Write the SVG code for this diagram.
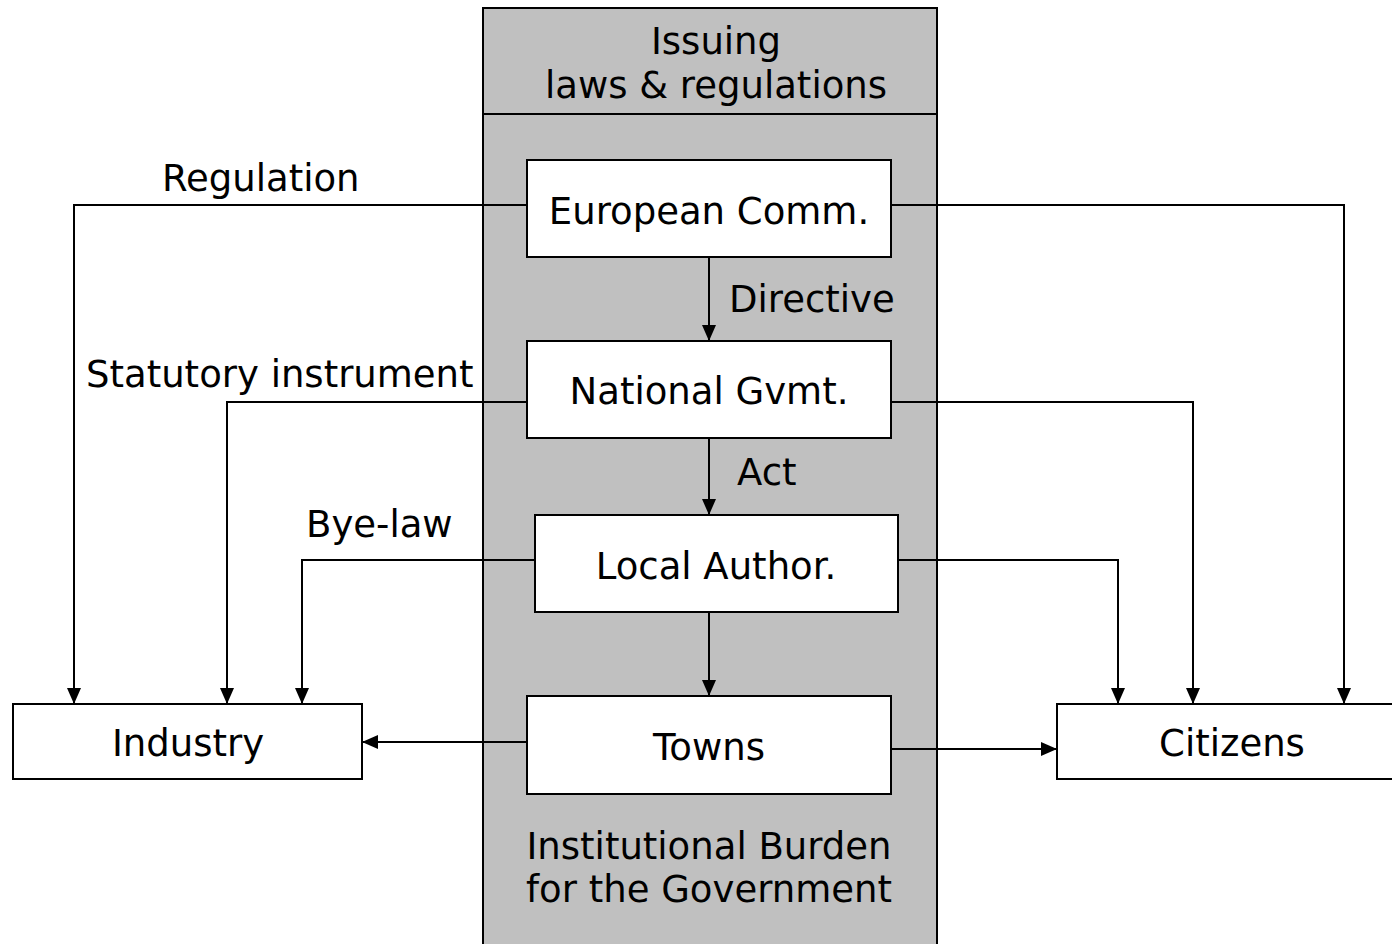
<svg xmlns="http://www.w3.org/2000/svg" width="1392" height="944" viewBox="0 0 1392 944">
<style>
.box{fill:#fff;stroke:#000;stroke-width:2}
.col{fill:#c0c0c0;stroke:#000;stroke-width:2}
text{font-family:"DejaVu Sans",Verdana,sans-serif;font-size:37px;fill:#000}
.c{text-anchor:middle}
.ln{fill:none;stroke:#000;stroke-width:2}
</style>
<defs>
<marker id="ah" markerWidth="16" markerHeight="16" refX="16" refY="8" orient="auto" markerUnits="userSpaceOnUse">
<path d="M0,1 L16,8 L0,15 Z" fill="#000"/>
</marker>
</defs>
<rect width="1392" height="944" fill="#fff"/>
<g id="column">
<rect class="col" x="483" y="8" width="454" height="950"/>
<line class="ln" x1="483" y1="114" x2="937" y2="114"/>
<text class="c" x="716" y="54">Issuing</text>
<text class="c" x="716" y="98">laws &amp; regulations</text>
<text class="c" x="709" y="859">Institutional Burden</text>
<text class="c" x="709" y="902">for the Government</text>
</g>
<g id="connectors">
<path class="ln" d="M709,257 V341" marker-end="url(#ah)"/>
<path class="ln" d="M709,438 V515" marker-end="url(#ah)"/>
<path class="ln" d="M709,612 V696" marker-end="url(#ah)"/>
<path class="ln" d="M527,205 H74 V704" marker-end="url(#ah)"/>
<path class="ln" d="M891,205 H1344 V704" marker-end="url(#ah)"/>
<path class="ln" d="M527,402 H227 V704" marker-end="url(#ah)"/>
<path class="ln" d="M891,402 H1193 V704" marker-end="url(#ah)"/>
<path class="ln" d="M535,560 H302 V704" marker-end="url(#ah)"/>
<path class="ln" d="M898,560 H1118 V704" marker-end="url(#ah)"/>
<path class="ln" d="M527,742 H362" marker-end="url(#ah)"/>
<path class="ln" d="M891,749 H1057" marker-end="url(#ah)"/>
<text x="162" y="191">Regulation</text>
<text x="86" y="387">Statutory instrument</text>
<text x="306" y="537">Bye-law</text>
<text x="729" y="312">Directive</text>
<text x="737" y="485">Act</text>
</g>
<g id="ec"><rect class="box" x="527" y="160" width="364" height="97"/><text class="c" x="709" y="224">European Comm.</text></g>
<g id="ng"><rect class="box" x="527" y="341" width="364" height="97"/><text class="c" x="709" y="404">National Gvmt.</text></g>
<g id="la"><rect class="box" x="535" y="515" width="363" height="97"/><text class="c" x="716" y="579">Local Author.</text></g>
<g id="towns"><rect class="box" x="527" y="696" width="364" height="98"/><text class="c" x="709" y="760">Towns</text></g>
<g id="industry"><rect class="box" x="13" y="704" width="349" height="75"/><text class="c" x="188" y="756">Industry</text></g>
<g id="citizens"><rect class="box" x="1057" y="704" width="345" height="75"/><text class="c" x="1232" y="756">Citizens</text></g>
</svg>
